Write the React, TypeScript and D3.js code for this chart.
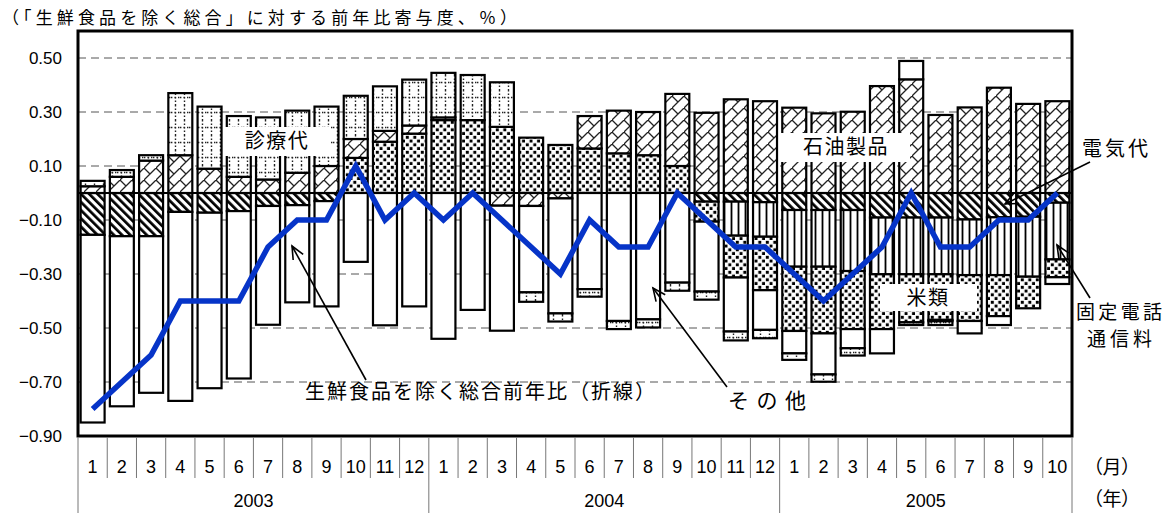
import React from 'react';
import * as d3 from 'd3';

// ---- data ----
const monthLabels = [
  '1','2','3','4','5','6','7','8','9','10','11','12',
  '1','2','3','4','5','6','7','8','9','10','11','12',
  '1','2','3','4','5','6','7','8','9','10',
];
const yearLabels = ['2003', '2004', '2005'];
const yearMonthCounts = [12, 12, 10];

// 生鮮食品を除く総合 前年比 (line)
const coreCPI = [
  -0.8, -0.7, -0.6, -0.4, -0.4, -0.4, -0.2, -0.1, -0.1, 0.1, -0.1, 0.0,
  -0.1, 0.0, -0.1, -0.2, -0.3, -0.1, -0.2, -0.2, 0.0, -0.1, -0.2, -0.2,
  -0.3, -0.4, -0.3, -0.2, 0.0, -0.2, -0.2, -0.1, -0.1, 0.0,
];
// 電気代
const electricity = [
  -0.155, -0.16, -0.16, -0.07, -0.073, -0.067, -0.048, -0.045, -0.03, 0, 0, 0,
  0, 0, 0, 0, 0, 0, 0, 0, 0, -0.032, -0.032, -0.034,
  -0.063, -0.063, -0.063, -0.091, -0.091, -0.091, -0.098, -0.09, -0.088, -0.036,
];
// 固定電話通信料
const fixedPhone = [
  0, 0, 0, 0, 0, 0, 0, 0, 0, 0, 0, 0,
  0, 0, 0, 0, 0, 0, 0, 0, 0, 0, -0.126, -0.128,
  -0.21, -0.21, -0.226, -0.21, -0.21, -0.21, -0.206, -0.214, -0.222, -0.21,
];
// 米類
const rice = [
  0, 0, 0, 0, 0, 0, 0, 0, 0, 0.13, 0.19, 0.22,
  0.27, 0.27, 0.245, 0.205, 0.178, 0.165, 0.147, 0.14, 0.1, -0.074, -0.155, -0.198,
  -0.238, -0.247, -0.215, -0.203, -0.178, -0.169, -0.17, -0.152, -0.117, -0.066,
];
// 石油製品
const petroleum = [
  0.025, 0.06, 0.12, 0.14, 0.09, 0.06, 0.05, 0.075, 0.1, 0.07, 0.04, 0.03,
  0.01, 0, -0.047, -0.048, -0.02, 0.12, 0.158, 0.16, 0.267, 0.297, 0.347, 0.34,
  0.316, 0.295, 0.301, 0.396, 0.421, 0.289, 0.317, 0.39, 0.33, 0.34,
];
// その他
const others = [
  -0.695, -0.63, -0.58, -0.7, -0.65, -0.62, -0.44, -0.36, -0.39, -0.255, -0.49, -0.42,
  -0.54, -0.433, -0.463, -0.32, -0.426, -0.356, -0.474, -0.468, -0.332, -0.259, -0.2, -0.147,
  -0.083, -0.152, -0.071, -0.09, 0.068, -0.005, -0.046, -0.033, 0, -0.025,
];
// 診療代
const medical = [
  0.02, 0.025, 0.02, 0.23, 0.23, 0.225, 0.23, 0.23, 0.22, 0.16, 0.165, 0.17,
  0.165, 0.167, 0.165, -0.035, -0.03, -0.028, -0.03, -0.03, -0.03, -0.03, -0.033, -0.031,
  -0.024, -0.027, -0.027, 0, -0.01, -0.014, 0, 0, 0, 0,
];

const yTicks = [0.5, 0.3, 0.1, -0.1, -0.3, -0.5, -0.7, -0.9];
const gridValues = [0.5, 0.3, 0.1, -0.1, -0.3, -0.5, -0.7];

const seriesKeys = ['elec', 'phone', 'rice', 'oil', 'other', 'med'];
const seriesFill: Record<string, string> = {
  elec: 'url(#pElec)',
  phone: 'url(#pVert)',
  rice: 'url(#pDots)',
  oil: 'url(#pBrick)',
  other: '#ffffff',
  med: 'url(#pGrid)',
};

const W = 1172;
const H = 513;
const PL = 78;
const PR = 1072;
const PT = 31;
const PB = 436;

const JP = '"Noto Sans CJK JP", "Noto Sans", sans-serif';
const NUM = '"Liberation Sans", Arial, sans-serif';

function Arrow({ x1, y1, x2, y2 }: { x1: number; y1: number; x2: number; y2: number }) {
  const ang = Math.atan2(y2 - y1, x2 - x1);
  const len = 14;
  const spread = 0.42;
  const ax = x2 - len * Math.cos(ang - spread);
  const ay = y2 - len * Math.sin(ang - spread);
  const bx = x2 - len * Math.cos(ang + spread);
  const by = y2 - len * Math.sin(ang + spread);
  return (
    <g stroke="#000" strokeWidth={1.6} fill="none">
      <line x1={x1} y1={y1} x2={x2} y2={y2} />
      <polyline points={`${ax},${ay} ${x2},${y2} ${bx},${by}`} />
    </g>
  );
}

export default function App() {
  const n = monthLabels.length;
  const rows = d3.range(n).map((i) => ({
    elec: electricity[i],
    phone: fixedPhone[i],
    rice: rice[i],
    oil: petroleum[i],
    other: others[i],
    med: medical[i],
  }));
  const stacked = d3
    .stack<any>()
    .keys(seriesKeys)
    .offset(d3.stackOffsetDiverging)(rows);

  const x = d3
    .scaleBand<number>()
    .domain(d3.range(n))
    .range([PL, PR])
    .paddingInner(0.18)
    .paddingOuter(0.09);
  const step = (PR - PL) / n;
  const bw = x.bandwidth();
  const y = d3.scaleLinear().domain([-0.9, 0.6]).range([PB, PT]);

  const linePath = d3
    .line<number>()
    .x((_, i) => (x(i) as number) + bw / 2)
    .y((v) => y(v))(coreCPI) as string;

  const yearBounds: number[] = [0];
  yearMonthCounts.forEach((c) => yearBounds.push(yearBounds[yearBounds.length - 1] + c));

  return (
    <svg
      width={W}
      height={H}
      style={{ position: 'absolute', left: 0, top: 0, background: '#fff' }}
    >
      <defs>
        <pattern id="pGrid" patternUnits="userSpaceOnUse" width="9" height="15">
          <rect width="9" height="15" fill="#fff" />
          <line x1="4.5" y1="0" x2="4.5" y2="15" stroke="#222" strokeWidth="1.4" strokeDasharray="1.4 2.1" />
          <line x1="0" y1="7.5" x2="9" y2="7.5" stroke="#222" strokeWidth="1.4" strokeDasharray="1.4 2.1" />
        </pattern>
        <pattern id="pBrick" patternUnits="userSpaceOnUse" width="12" height="12">
          <rect width="12" height="12" fill="#fff" />
          <path d="M-1,13 L13,-1 M0,0 L6,6" stroke="#222" strokeWidth="1.3" fill="none" />
        </pattern>
        <pattern id="pElec" patternUnits="userSpaceOnUse" width="5.8" height="6" patternTransform="rotate(-45)">
          <rect width="5.8" height="6" fill="#fff" />
          <rect width="2.7" height="6" fill="#000" />
        </pattern>
        <pattern id="pDots" patternUnits="userSpaceOnUse" width="7.5" height="7.5">
          <rect width="7.5" height="7.5" fill="#fff" />
          <rect x="0.8" y="0.8" width="3" height="3" fill="#000" />
          <rect x="4.55" y="4.55" width="3" height="3" fill="#000" />
        </pattern>
        <pattern id="pVert" patternUnits="userSpaceOnUse" width="7" height="10">
          <rect width="7" height="10" fill="#fff" />
          <rect x="2.6" width="1.8" height="10" fill="#000" />
        </pattern>
      </defs>

      {/* title */}
      <text x={2} y={24} fontFamily={JP} fontSize={17} textLength={515} lengthAdjust="spacing">
        （「生鮮食品を除く総合」に対する前年比寄与度、％）
      </text>

      {/* grid lines */}
      {gridValues.map((v) => (
        <line
          key={v}
          x1={PL}
          x2={PR}
          y1={y(v)}
          y2={y(v)}
          stroke="#555"
          strokeWidth={1}
          strokeDasharray="8 5"
        />
      ))}

      {/* stacked bars */}
      {stacked.map((s) => (
        <g key={s.key}>
          {s.map((d, i) => {
            const y0 = y(d[0]);
            const y1 = y(d[1]);
            const h = Math.abs(y0 - y1);
            if (h < 0.5) return null;
            return (
              <rect
                key={i}
                x={x(i)}
                y={Math.min(y0, y1)}
                width={bw}
                height={h}
                fill={seriesFill[s.key]}
                stroke="#000"
                strokeWidth={2.2}
              />
            );
          })}
        </g>
      ))}

      {/* zero line */}
      <line x1={PL} x2={PR} y1={y(0)} y2={y(0)} stroke="#000" strokeWidth={2} />

      {/* label boxes */}
      <rect x={225} y={127} width={105} height={29} fill="#fff" />
      <text x={277} y={148} fontFamily={JP} fontSize={20} textAnchor="middle" letterSpacing={1.5}>
        診療代
      </text>
      <rect x={780} y={133} width={130} height={29} fill="#fff" />
      <text x={846} y={154} fontFamily={JP} fontSize={20} textAnchor="middle" letterSpacing={1.5}>
        石油製品
      </text>
      <rect x={880} y={284} width={97} height={27} fill="#fff" />
      <text x={928} y={305} fontFamily={JP} fontSize={20} textAnchor="middle" letterSpacing={1.5}>
        米類
      </text>

      {/* CPI line */}
      <path d={linePath} fill="none" stroke="#0634C8" strokeWidth={5.5} strokeLinejoin="miter" />

      {/* plot border */}
      <rect x={PL} y={PT} width={PR - PL} height={PB - PT} fill="none" stroke="#000" strokeWidth={3} />

      {/* y tick labels */}
      {yTicks.map((v) => (
        <text
          key={v}
          x={62}
          y={y(v) + 6}
          textAnchor="end"
          fontFamily={NUM}
          fontSize={17}
        >
          {d3.format('.2f')(v)}
        </text>
      ))}

      {/* x axis: month separators and labels */}
      {d3.range(n + 1).map((i) => {
        const isYear = yearBounds.includes(i);
        return (
          <line
            key={`s${i}`}
            x1={PL + step * i}
            x2={PL + step * i}
            y1={PB + 1}
            y2={isYear ? H : 478}
            stroke="#777"
            strokeWidth={1}
          />
        );
      })}
      {monthLabels.map((m, i) => (
        <text
          key={`m${i}`}
          x={PL + step * (i + 0.5)}
          y={473}
          textAnchor="middle"
          fontFamily={NUM}
          fontSize={18}
        >
          {m}
        </text>
      ))}
      {yearLabels.map((yl, k) => (
        <text
          key={yl}
          x={PL + step * (yearBounds[k] + yearBounds[k + 1]) / 2}
          y={507}
          textAnchor="middle"
          fontFamily={NUM}
          fontSize={18}
        >
          {yl}
        </text>
      ))}
      <text x={1084} y={474} fontFamily={JP} fontSize={19} textLength={56} lengthAdjust="spacing">
        （月）
      </text>
      <text x={1084} y={506} fontFamily={JP} fontSize={19} textLength={56} lengthAdjust="spacing">
        （年）
      </text>

      {/* annotations */}
      <Arrow x1={366} y1={380} x2={292} y2={246} />
      <text x={305} y={399} fontFamily={JP} fontSize={20} textLength={350} lengthAdjust="spacing">
        生鮮食品を除く総合前年比（折線）
      </text>
      <Arrow x1={727} y1={387} x2={653} y2={288} />
      <text x={728} y={408} fontFamily={JP} fontSize={21} textLength={78} lengthAdjust="spacing">
        その他
      </text>
      <Arrow x1={1090} y1={162} x2={1005} y2={204} />
      <text x={1082} y={156} fontFamily={JP} fontSize={20} textLength={66} lengthAdjust="spacing">
        電気代
      </text>
      <Arrow x1={1090} y1={298} x2={1057} y2={245} />
      <text x={1076} y={319} fontFamily={JP} fontSize={19} textLength={86} lengthAdjust="spacing">
        固定電話
      </text>
      <text x={1087} y={346} fontFamily={JP} fontSize={19} textLength={65} lengthAdjust="spacing">
        通信料
      </text>
    </svg>
  );
}
